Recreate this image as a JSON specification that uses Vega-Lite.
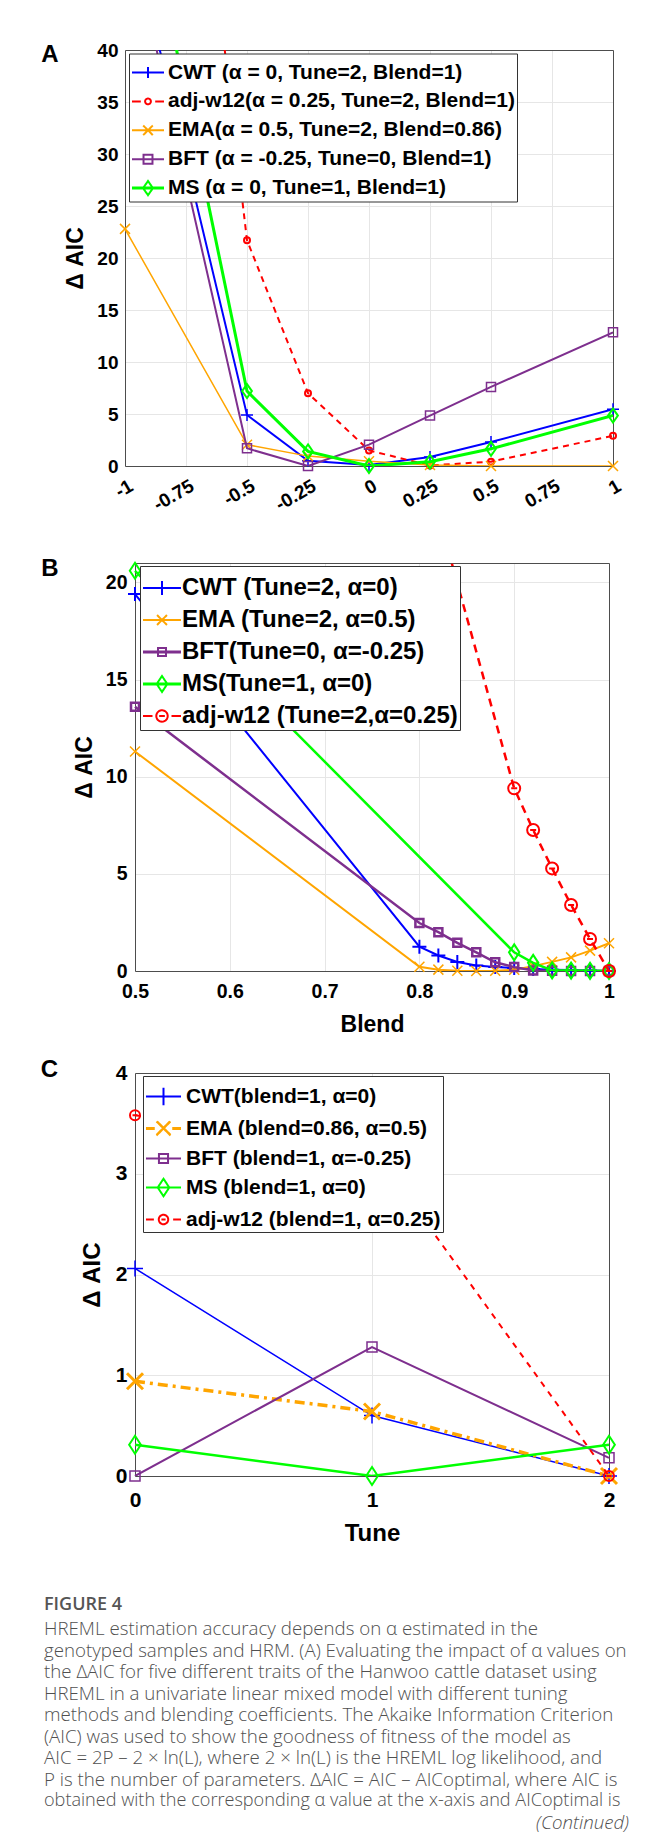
{
  "$schema": "https://vega.github.io/schema/vega-lite/v6.json",
  "background": "white",
  "padding": {"left": 40, "top": 41, "right": 0, "bottom": 0},
  "config": {
    "font": "Liberation Sans",
    "view": {"stroke": null},
    "axis": {
      "labelFont": "Liberation Sans", "labelFontWeight": "bold", "labelColor": "#000000",
      "titleFont": "Liberation Sans", "titleFontWeight": "bold", "titleColor": "#000000",
      "gridColor": "#e6e6e6", "gridWidth": 1, "ticks": false, "labelOverlap": false,
      "labelFlush": false, "labelBound": false, "domainColor": "#4d4d4d", "domainWidth": 1
    },
    "legend": {"labelFont": "Liberation Sans", "labelFontWeight": "bold", "labelColor": "#000000", "labelLimit": 800, "fillColor": "#ffffff", "strokeColor": "#333333"}
  },
  "datasets": {
    "a": [
      {"s": "CWT (α = 0, Tune=2, Blend=1)", "x": -1, "y": 54},
      {"s": "CWT (α = 0, Tune=2, Blend=1)", "x": -0.5, "y": 4.9},
      {"s": "CWT (α = 0, Tune=2, Blend=1)", "x": -0.25, "y": 0.5},
      {"s": "CWT (α = 0, Tune=2, Blend=1)", "x": 0, "y": 0.1},
      {"s": "CWT (α = 0, Tune=2, Blend=1)", "x": 0.25, "y": 0.86},
      {"s": "CWT (α = 0, Tune=2, Blend=1)", "x": 0.5, "y": 2.3},
      {"s": "CWT (α = 0, Tune=2, Blend=1)", "x": 1, "y": 5.45},
      {"s": "adj-w12(α = 0.25, Tune=2, Blend=1)", "x": -1, "y": 122},
      {"s": "adj-w12(α = 0.25, Tune=2, Blend=1)", "x": -0.5, "y": 21.7},
      {"s": "adj-w12(α = 0.25, Tune=2, Blend=1)", "x": -0.25, "y": 7.0},
      {"s": "adj-w12(α = 0.25, Tune=2, Blend=1)", "x": 0, "y": 1.5},
      {"s": "adj-w12(α = 0.25, Tune=2, Blend=1)", "x": 0.25, "y": 0.05},
      {"s": "adj-w12(α = 0.25, Tune=2, Blend=1)", "x": 0.5, "y": 0.42},
      {"s": "adj-w12(α = 0.25, Tune=2, Blend=1)", "x": 1, "y": 2.9},
      {"s": "EMA(α = 0.5, Tune=2, Blend=0.86)", "x": -1, "y": 22.8},
      {"s": "EMA(α = 0.5, Tune=2, Blend=0.86)", "x": -0.5, "y": 2.05},
      {"s": "EMA(α = 0.5, Tune=2, Blend=0.86)", "x": -0.25, "y": 0.95},
      {"s": "EMA(α = 0.5, Tune=2, Blend=0.86)", "x": 0, "y": 0.45},
      {"s": "EMA(α = 0.5, Tune=2, Blend=0.86)", "x": 0.25, "y": 0.1},
      {"s": "EMA(α = 0.5, Tune=2, Blend=0.86)", "x": 0.5, "y": 0},
      {"s": "EMA(α = 0.5, Tune=2, Blend=0.86)", "x": 1, "y": 0},
      {"s": "BFT (α = -0.25, Tune=0, Blend=1)", "x": -1, "y": 53.4},
      {"s": "BFT (α = -0.25, Tune=0, Blend=1)", "x": -0.5, "y": 1.7},
      {"s": "BFT (α = -0.25, Tune=0, Blend=1)", "x": -0.25, "y": 0},
      {"s": "BFT (α = -0.25, Tune=0, Blend=1)", "x": 0, "y": 2.05},
      {"s": "BFT (α = -0.25, Tune=0, Blend=1)", "x": 0.25, "y": 4.85},
      {"s": "BFT (α = -0.25, Tune=0, Blend=1)", "x": 0.5, "y": 7.6},
      {"s": "BFT (α = -0.25, Tune=0, Blend=1)", "x": 1, "y": 12.85},
      {"s": "MS (α = 0, Tune=1, Blend=1)", "x": -1, "y": 64},
      {"s": "MS (α = 0, Tune=1, Blend=1)", "x": -0.5, "y": 7.2},
      {"s": "MS (α = 0, Tune=1, Blend=1)", "x": -0.25, "y": 1.4},
      {"s": "MS (α = 0, Tune=1, Blend=1)", "x": 0, "y": 0},
      {"s": "MS (α = 0, Tune=1, Blend=1)", "x": 0.25, "y": 0.4},
      {"s": "MS (α = 0, Tune=1, Blend=1)", "x": 0.5, "y": 1.65},
      {"s": "MS (α = 0, Tune=1, Blend=1)", "x": 1, "y": 4.85}
    ],
    "b": [
      {"s": "CWT (Tune=2, α=0)", "x": 0.5, "y": 19.4},
      {"s": "CWT (Tune=2, α=0)", "x": 0.8, "y": 1.25},
      {"s": "CWT (Tune=2, α=0)", "x": 0.82, "y": 0.8},
      {"s": "CWT (Tune=2, α=0)", "x": 0.84, "y": 0.46},
      {"s": "CWT (Tune=2, α=0)", "x": 0.86, "y": 0.28},
      {"s": "CWT (Tune=2, α=0)", "x": 0.88, "y": 0.2},
      {"s": "CWT (Tune=2, α=0)", "x": 0.9, "y": 0.15},
      {"s": "CWT (Tune=2, α=0)", "x": 0.92, "y": 0.1},
      {"s": "CWT (Tune=2, α=0)", "x": 0.94, "y": 0.07},
      {"s": "CWT (Tune=2, α=0)", "x": 0.96, "y": 0.05},
      {"s": "CWT (Tune=2, α=0)", "x": 0.98, "y": 0.03},
      {"s": "CWT (Tune=2, α=0)", "x": 1, "y": 0},
      {"s": "EMA (Tune=2, α=0.5)", "x": 0.5, "y": 11.3},
      {"s": "EMA (Tune=2, α=0.5)", "x": 0.8, "y": 0.22},
      {"s": "EMA (Tune=2, α=0.5)", "x": 0.82, "y": 0.07},
      {"s": "EMA (Tune=2, α=0.5)", "x": 0.84, "y": 0.01},
      {"s": "EMA (Tune=2, α=0.5)", "x": 0.86, "y": 0},
      {"s": "EMA (Tune=2, α=0.5)", "x": 0.88, "y": 0.01},
      {"s": "EMA (Tune=2, α=0.5)", "x": 0.9, "y": 0.06},
      {"s": "EMA (Tune=2, α=0.5)", "x": 0.92, "y": 0.25},
      {"s": "EMA (Tune=2, α=0.5)", "x": 0.94, "y": 0.47},
      {"s": "EMA (Tune=2, α=0.5)", "x": 0.96, "y": 0.7},
      {"s": "EMA (Tune=2, α=0.5)", "x": 0.98, "y": 1.05},
      {"s": "EMA (Tune=2, α=0.5)", "x": 1, "y": 1.43},
      {"s": "BFT(Tune=0, α=-0.25)", "x": 0.5, "y": 13.6},
      {"s": "BFT(Tune=0, α=-0.25)", "x": 0.8, "y": 2.47},
      {"s": "BFT(Tune=0, α=-0.25)", "x": 0.82, "y": 2.0},
      {"s": "BFT(Tune=0, α=-0.25)", "x": 0.84, "y": 1.45},
      {"s": "BFT(Tune=0, α=-0.25)", "x": 0.86, "y": 0.96},
      {"s": "BFT(Tune=0, α=-0.25)", "x": 0.88, "y": 0.45},
      {"s": "BFT(Tune=0, α=-0.25)", "x": 0.9, "y": 0.2},
      {"s": "BFT(Tune=0, α=-0.25)", "x": 0.92, "y": 0.03},
      {"s": "BFT(Tune=0, α=-0.25)", "x": 0.94, "y": 0.01},
      {"s": "BFT(Tune=0, α=-0.25)", "x": 0.96, "y": 0},
      {"s": "BFT(Tune=0, α=-0.25)", "x": 0.98, "y": 0},
      {"s": "BFT(Tune=0, α=-0.25)", "x": 1, "y": 0},
      {"s": "MS(Tune=1, α=0)", "x": 0.5, "y": 20.6},
      {"s": "MS(Tune=1, α=0)", "x": 0.9, "y": 0.96},
      {"s": "MS(Tune=1, α=0)", "x": 0.92, "y": 0.42},
      {"s": "MS(Tune=1, α=0)", "x": 0.94, "y": 0.03},
      {"s": "MS(Tune=1, α=0)", "x": 0.96, "y": 0.02},
      {"s": "MS(Tune=1, α=0)", "x": 0.98, "y": 0.01},
      {"s": "MS(Tune=1, α=0)", "x": 1, "y": 0},
      {"s": "adj-w12 (Tune=2,α=0.25)", "x": 0.5, "y": 80},
      {"s": "adj-w12 (Tune=2,α=0.25)", "x": 0.8, "y": 27},
      {"s": "adj-w12 (Tune=2,α=0.25)", "x": 0.9, "y": 9.4},
      {"s": "adj-w12 (Tune=2,α=0.25)", "x": 0.92, "y": 7.26},
      {"s": "adj-w12 (Tune=2,α=0.25)", "x": 0.94, "y": 5.28},
      {"s": "adj-w12 (Tune=2,α=0.25)", "x": 0.96, "y": 3.4},
      {"s": "adj-w12 (Tune=2,α=0.25)", "x": 0.98, "y": 1.65},
      {"s": "adj-w12 (Tune=2,α=0.25)", "x": 1, "y": 0}
    ],
    "c": [
      {"s": "CWT(blend=1, α=0)", "x": 0, "y": 2.06},
      {"s": "CWT(blend=1, α=0)", "x": 1, "y": 0.6},
      {"s": "CWT(blend=1, α=0)", "x": 2, "y": 0},
      {"s": "EMA (blend=0.86, α=0.5)", "x": 0, "y": 0.94},
      {"s": "EMA (blend=0.86, α=0.5)", "x": 1, "y": 0.64},
      {"s": "EMA (blend=0.86, α=0.5)", "x": 2, "y": 0},
      {"s": "BFT (blend=1, α=-0.25)", "x": 0, "y": 0},
      {"s": "BFT (blend=1, α=-0.25)", "x": 1, "y": 1.28},
      {"s": "BFT (blend=1, α=-0.25)", "x": 2, "y": 0.18},
      {"s": "MS (blend=1, α=0)", "x": 0, "y": 0.31},
      {"s": "MS (blend=1, α=0)", "x": 1, "y": 0},
      {"s": "MS (blend=1, α=0)", "x": 2, "y": 0.31},
      {"s": "adj-w12 (blend=1, α=0.25)", "x": 0, "y": 3.58},
      {"s": "adj-w12 (blend=1, α=0.25)", "x": 1, "y": 3.26},
      {"s": "adj-w12 (blend=1, α=0.25)", "x": 2, "y": 0}
    ],
    "cap": [
      {"line": 1, "text": "HREML estimation accuracy depends on α estimated in the"},
      {"line": 2, "text": "genotyped samples and HRM. (A) Evaluating the impact of α values on"},
      {"line": 3, "text": "the ΔAIC for five different traits of the Hanwoo cattle dataset using"},
      {"line": 4, "text": "HREML in a univariate linear mixed model with different tuning"},
      {"line": 5, "text": "methods and blending coefficients. The Akaike Information Criterion"},
      {"line": 6, "text": "(AIC) was used to show the goodness of fitness of the model as"},
      {"line": 7, "text": "AIC = 2P – 2 × ln(L), where 2 × ln(L) is the HREML log likelihood, and"},
      {"line": 8, "text": "P is the number of parameters. ΔAIC = AIC – AICoptimal, where AIC is"},
      {"line": 9, "text": "obtained with the corresponding α value at the x-axis and AICoptimal is"},
      {"line": 10, "text": "(Continued)"}
    ]
  },
  "resolve": {"scale": {"color": "independent", "x": "independent", "y": "independent"}, "legend": {"color": "independent"}},
  "spacing": 21,
  "vconcat": [
    {
      "resolve": {"scale": {"color": "independent", "x": "independent", "y": "independent"}, "legend": {"color": "independent"}},
      "spacing": 41,
      "vconcat": [
        {
          "width": 488, "height": 416,
          "title": {"text": "A", "orient": "left", "anchor": "end", "frame": "group", "angle": 0, "align": "left", "baseline": "alphabetic", "offset": 5.5, "dy": 11.5, "fontSize": 24, "fontWeight": "bold", "font": "Liberation Sans", "color": "#000000"},
          "data": {"name": "a"},
          "resolve": {"axis": {"x": "independent", "y": "independent"}},
          "layer": [
            {
              "transform": [{"filter": "indexof(datum.s, 'CWT') == 0"}],
              "mark": {"type": "line", "clip": true, "strokeWidth": 2},
              "encoding": {
                "x": {"field": "x", "type": "quantitative", "scale": {"domain": [-1, 1], "nice": false, "zero": false},
                  "axis": {"values": [-1, -0.75, -0.5, -0.25, 0, 0.25, 0.5, 0.75, 1], "labelExpr": "'' + datum.value", "labelAngle": -30, "labelAlign": "right", "labelBaseline": "middle", "labelPadding": 18, "labelOffset": 6, "labelFontSize": 19, "grid": true, "title": null, "domain": true}},
                "y": {"field": "y", "type": "quantitative", "scale": {"domain": [0, 40], "nice": false, "zero": false},
                  "axis": {"values": [0, 5, 10, 15, 20, 25, 30, 35, 40], "labelExpr": "'' + datum.value", "labelPadding": 7, "labelFontSize": 19, "grid": true, "domain": true, "title": "Δ AIC", "titleFontSize": 23, "titleX": -50, "titleY": 208, "titleAngle": 270, "titleBaseline": "middle", "titleAlign": "center"}},
                "color": {"field": "s", "type": "nominal",
                  "scale": {"domain": ["CWT (α = 0, Tune=2, Blend=1)", "adj-w12(α = 0.25, Tune=2, Blend=1)", "EMA(α = 0.5, Tune=2, Blend=0.86)", "BFT (α = -0.25, Tune=0, Blend=1)", "MS (α = 0, Tune=1, Blend=1)"], "range": ["#0000ff", "#ff0000", "#ffa500", "#7e2f8e", "#00ff00"]},
                  "legend": {"title": null, "orient": "none", "legendX": 4, "legendY": 3.5, "direction": "vertical", "labelFontSize": 21, "symbolSize": 1024, "symbolStrokeWidth": 2, "padding": 2, "rowPadding": 1.9, "labelOffset": 3,
                    "encode": {"symbols": {"update": {
                      "shape": {"signal": "['M-1,0H1M0,-0.34V0.34','M-1,0H-0.45M0.45,0H1M0.18,0A0.18,0.18 0 1 1 -0.18,0A0.18,0.18 0 1 1 0.18,0','M-1,0H1M-0.3,-0.3L0.3,0.3M-0.3,0.3L0.3,-0.3','M-1,0H1M-0.28,-0.28H0.28V0.28H-0.28Z','M-1,-0.03H1M-1,0.03H1M0,-0.44L0.31,0L0,0.44L-0.31,0Z'][datum.index]"},
                      "size": {"value": 1024},
                      "strokeDash": {"value": [1, 0]},
                      "fill": {"value": "transparent"}}}}}}
              }
            },
            {
              "transform": [{"filter": "indexof(datum.s, 'CWT') == 0 && datum.y <= 40"}],
              "mark": {"type": "point", "filled": false, "opacity": 1, "shape": "M-1,0H1M0,-1V1", "size": 144, "strokeWidth": 1.5},
              "encoding": {
                "x": {"field": "x", "type": "quantitative", "axis": {"orient": "top", "labels": false, "grid": false, "domain": true, "title": null}},
                "y": {"field": "y", "type": "quantitative", "axis": {"orient": "right", "labels": false, "grid": false, "domain": true, "title": null}},
                "color": {"field": "s", "type": "nominal", "legend": null}
              }
            },
            {
              "transform": [{"filter": "indexof(datum.s, 'adj') == 0"}],
              "mark": {"type": "line", "clip": true, "strokeWidth": 2, "strokeDash": [6, 5]},
              "encoding": {"x": {"field": "x", "type": "quantitative", "axis": null}, "y": {"field": "y", "type": "quantitative", "axis": null}, "color": {"field": "s", "type": "nominal", "legend": null}}
            },
            {
              "transform": [{"filter": "indexof(datum.s, 'adj') == 0 && datum.y <= 40"}],
              "mark": {"type": "point", "filled": false, "opacity": 1, "shape": "circle", "size": 36, "strokeWidth": 2},
              "encoding": {"x": {"field": "x", "type": "quantitative", "axis": null}, "y": {"field": "y", "type": "quantitative", "axis": null}, "color": {"field": "s", "type": "nominal", "legend": null}}
            },
            {
              "transform": [{"filter": "indexof(datum.s, 'EMA') == 0"}],
              "mark": {"type": "line", "clip": true, "strokeWidth": 1.5},
              "encoding": {"x": {"field": "x", "type": "quantitative", "axis": null}, "y": {"field": "y", "type": "quantitative", "axis": null}, "color": {"field": "s", "type": "nominal", "legend": null}}
            },
            {
              "transform": [{"filter": "indexof(datum.s, 'EMA') == 0 && datum.y <= 40"}],
              "mark": {"type": "point", "filled": false, "opacity": 1, "shape": "M-1,-1L1,1M-1,1L1,-1", "size": 100, "strokeWidth": 1.5},
              "encoding": {"x": {"field": "x", "type": "quantitative", "axis": null}, "y": {"field": "y", "type": "quantitative", "axis": null}, "color": {"field": "s", "type": "nominal", "legend": null}}
            },
            {
              "transform": [{"filter": "indexof(datum.s, 'BFT') == 0"}],
              "mark": {"type": "line", "clip": true, "strokeWidth": 2},
              "encoding": {"x": {"field": "x", "type": "quantitative", "axis": null}, "y": {"field": "y", "type": "quantitative", "axis": null}, "color": {"field": "s", "type": "nominal", "legend": null}}
            },
            {
              "transform": [{"filter": "indexof(datum.s, 'BFT') == 0 && datum.y <= 40"}],
              "mark": {"type": "point", "filled": false, "opacity": 1, "shape": "square", "size": 81, "strokeWidth": 1.5},
              "encoding": {"x": {"field": "x", "type": "quantitative", "axis": null}, "y": {"field": "y", "type": "quantitative", "axis": null}, "color": {"field": "s", "type": "nominal", "legend": null}}
            },
            {
              "transform": [{"filter": "indexof(datum.s, 'MS') == 0"}],
              "mark": {"type": "line", "clip": true, "strokeWidth": 3},
              "encoding": {"x": {"field": "x", "type": "quantitative", "axis": null}, "y": {"field": "y", "type": "quantitative", "axis": null}, "color": {"field": "s", "type": "nominal", "legend": null}}
            },
            {
              "transform": [{"filter": "indexof(datum.s, 'MS') == 0 && datum.y <= 40"}],
              "mark": {"type": "point", "filled": false, "opacity": 1, "shape": "M0,-1L0.7,0L0,1L-0.7,0Z", "size": 196, "strokeWidth": 2},
              "encoding": {"x": {"field": "x", "type": "quantitative", "axis": null}, "y": {"field": "y", "type": "quantitative", "axis": null}, "color": {"field": "s", "type": "nominal", "legend": null}}
            }
          ]
        },
        {
          "width": 488, "height": 408,
          "title": {"text": "B", "orient": "left", "anchor": "end", "frame": "group", "angle": 0, "align": "left", "baseline": "alphabetic", "offset": 14.5, "dy": 12.7, "fontSize": 24, "fontWeight": "bold", "font": "Liberation Sans", "color": "#000000"},
          "data": {"name": "b"},
          "resolve": {"axis": {"x": "independent", "y": "independent"}},
          "layer": [
            {
              "transform": [{"filter": "indexof(datum.s, 'CWT') == 0"}],
              "mark": {"type": "line", "clip": true, "strokeWidth": 2},
              "encoding": {
                "x": {"field": "x", "type": "quantitative", "scale": {"domain": [0.5, 1], "range": [10, 484], "nice": false, "zero": false},
                  "axis": {"values": [0.5, 0.6, 0.7, 0.8, 0.9, 1], "labelExpr": "'' + datum.value", "labelPadding": 11, "labelFontSize": 19.5, "grid": true, "domain": true, "title": "Blend", "titleFontSize": 23, "titleY": 53, "titleBaseline": "middle"}},
                "y": {"field": "y", "type": "quantitative", "scale": {"domain": [0, 21], "nice": false, "zero": false},
                  "axis": {"values": [0, 5, 10, 15, 20], "labelExpr": "'' + datum.value", "offset": -10, "labelPadding": 8, "labelFontSize": 19.5, "grid": true, "domain": true, "title": "Δ AIC", "titleFontSize": 23, "titleX": -51, "titleY": 204, "titleAngle": 270, "titleBaseline": "middle", "titleAlign": "center"}},
                "color": {"field": "s", "type": "nominal",
                  "scale": {"domain": ["CWT (Tune=2, α=0)", "EMA (Tune=2, α=0.5)", "BFT(Tune=0, α=-0.25)", "MS(Tune=1, α=0)", "adj-w12 (Tune=2,α=0.25)"], "range": ["#0000ff", "#ffa500", "#7e2f8e", "#00ff00", "#ff0000"]},
                  "legend": {"title": null, "orient": "none", "legendX": 15, "legendY": 3, "direction": "vertical", "labelFontSize": 24, "symbolSize": 1444, "symbolStrokeWidth": 2, "padding": 2, "rowPadding": -3.1, "labelOffset": 0,
                    "encode": {"symbols": {"update": {
                      "shape": {"signal": "['M-1,0H1M0,-0.37V0.37','M-1,0H1M-0.26,-0.26L0.26,0.26M-0.26,0.26L0.26,-0.26','M-1,-0.02H1M-1,0.02H1M-0.21,-0.21H0.21V0.21H-0.21Z','M-1,-0.02H1M-1,0.02H1M0,-0.42L0.28,0L0,0.42L-0.28,0Z','M-1,0H-0.5M0.5,0H1M0.3,0A0.3,0.3 0 1 1 -0.3,0A0.3,0.3 0 1 1 0.3,0M-0.15,0H0.15'][datum.index]"},
                      "size": {"value": 1444},
                      "strokeDash": {"value": [1, 0]},
                      "fill": {"value": "transparent"}}}}}}
              }
            },
            {
              "transform": [{"filter": "indexof(datum.s, 'CWT') == 0 && datum.y <= 21"}],
              "mark": {"type": "point", "filled": false, "opacity": 1, "shape": "M-1,0H1M0,-1V1", "size": 196, "strokeWidth": 2},
              "encoding": {
                "x": {"field": "x", "type": "quantitative", "axis": {"orient": "top", "labels": false, "grid": false, "domain": true, "title": null}},
                "y": {"field": "y", "type": "quantitative", "axis": {"orient": "right", "offset": -4, "labels": false, "grid": false, "domain": true, "title": null}},
                "color": {"field": "s", "type": "nominal", "legend": null}
              }
            },
            {
              "transform": [{"filter": "indexof(datum.s, 'EMA') == 0"}],
              "mark": {"type": "line", "clip": true, "strokeWidth": 2},
              "encoding": {"x": {"field": "x", "type": "quantitative", "axis": null}, "y": {"field": "y", "type": "quantitative", "axis": null}, "color": {"field": "s", "type": "nominal", "legend": null}}
            },
            {
              "transform": [{"filter": "indexof(datum.s, 'EMA') == 0 && datum.y <= 21"}],
              "mark": {"type": "point", "filled": false, "opacity": 1, "shape": "M-1,-1L1,1M-1,1L1,-1", "size": 100, "strokeWidth": 1.5},
              "encoding": {"x": {"field": "x", "type": "quantitative", "axis": null}, "y": {"field": "y", "type": "quantitative", "axis": null}, "color": {"field": "s", "type": "nominal", "legend": null}}
            },
            {
              "transform": [{"filter": "indexof(datum.s, 'BFT') == 0"}],
              "mark": {"type": "line", "clip": true, "strokeWidth": 2.5},
              "encoding": {"x": {"field": "x", "type": "quantitative", "axis": null}, "y": {"field": "y", "type": "quantitative", "axis": null}, "color": {"field": "s", "type": "nominal", "legend": null}}
            },
            {
              "transform": [{"filter": "indexof(datum.s, 'BFT') == 0 && datum.y <= 21"}],
              "mark": {"type": "point", "filled": false, "opacity": 1, "shape": "square", "size": 64, "strokeWidth": 2.5},
              "encoding": {"x": {"field": "x", "type": "quantitative", "axis": null}, "y": {"field": "y", "type": "quantitative", "axis": null}, "color": {"field": "s", "type": "nominal", "legend": null}}
            },
            {
              "transform": [{"filter": "indexof(datum.s, 'MS') == 0"}],
              "mark": {"type": "line", "clip": true, "strokeWidth": 2.5},
              "encoding": {"x": {"field": "x", "type": "quantitative", "axis": null}, "y": {"field": "y", "type": "quantitative", "axis": null}, "color": {"field": "s", "type": "nominal", "legend": null}}
            },
            {
              "transform": [{"filter": "indexof(datum.s, 'MS') == 0 && datum.y <= 21"}],
              "mark": {"type": "point", "filled": false, "opacity": 1, "shape": "M0,-1L0.65,0L0,1L-0.65,0Z", "size": 256, "strokeWidth": 2},
              "encoding": {"x": {"field": "x", "type": "quantitative", "axis": null}, "y": {"field": "y", "type": "quantitative", "axis": null}, "color": {"field": "s", "type": "nominal", "legend": null}}
            },
            {
              "transform": [{"filter": "indexof(datum.s, 'adj') == 0"}],
              "mark": {"type": "line", "clip": true, "strokeWidth": 2.5, "strokeDash": [8, 6]},
              "encoding": {"x": {"field": "x", "type": "quantitative", "axis": null}, "y": {"field": "y", "type": "quantitative", "axis": null}, "color": {"field": "s", "type": "nominal", "legend": null}}
            },
            {
              "transform": [{"filter": "indexof(datum.s, 'adj') == 0 && datum.y <= 21"}],
              "mark": {"type": "point", "filled": false, "opacity": 1, "shape": "M1,0A1,1 0 1 1 -1,0A1,1 0 1 1 1,0M-0.5,0H0.5", "size": 144, "strokeWidth": 2},
              "encoding": {"x": {"field": "x", "type": "quantitative", "axis": null}, "y": {"field": "y", "type": "quantitative", "axis": null}, "color": {"field": "s", "type": "nominal", "legend": null}}
            }
          ]
        }
      ]
    },
    {
      "resolve": {"scale": {"color": "independent", "x": "independent", "y": "independent"}, "legend": {"color": "independent"}},
      "spacing": 50,
      "vconcat": [
        {
          "width": 488, "height": 403,
          "title": {"text": "C", "orient": "left", "anchor": "end", "frame": "group", "angle": 0, "align": "left", "baseline": "alphabetic", "offset": 22, "dy": 3.7, "fontSize": 24, "fontWeight": "bold", "font": "Liberation Sans", "color": "#000000"},
          "data": {"name": "c"},
          "resolve": {"axis": {"x": "independent", "y": "independent"}},
          "layer": [
            {
              "transform": [{"filter": "indexof(datum.s, 'CWT') == 0"}],
              "mark": {"type": "line", "clip": true, "strokeWidth": 1.5},
              "encoding": {
                "x": {"field": "x", "type": "quantitative", "scale": {"domain": [0, 2], "range": [10, 484], "nice": false, "zero": false},
                  "axis": {"values": [0, 1, 2], "labelExpr": "'' + datum.value", "labelPadding": 13, "labelFontSize": 21, "grid": true, "domain": true, "title": "Tune", "titleFontSize": 24, "titleY": 57, "titleBaseline": "middle"}},
                "y": {"field": "y", "type": "quantitative", "scale": {"domain": [0, 4], "nice": false, "zero": false},
                  "axis": {"values": [0, 1, 2, 3, 4], "labelExpr": "'' + datum.value", "offset": -10, "labelPadding": 8, "labelFontSize": 21, "grid": true, "domain": true, "title": "Δ AIC", "titleFontSize": 24, "titleX": -43, "titleY": 201.5, "titleAngle": 270, "titleBaseline": "middle", "titleAlign": "center"}},
                "color": {"field": "s", "type": "nominal",
                  "scale": {"domain": ["CWT(blend=1, α=0)", "EMA (blend=0.86, α=0.5)", "BFT (blend=1, α=-0.25)", "MS (blend=1, α=0)", "adj-w12 (blend=1, α=0.25)"], "range": ["#0000ff", "#ffa500", "#7e2f8e", "#00ff00", "#ff0000"]},
                  "legend": {"title": null, "orient": "none", "legendX": 18, "legendY": 3, "direction": "vertical", "labelFontSize": 21, "symbolSize": 1225, "symbolStrokeWidth": 2, "padding": 2, "rowPadding": -4.6, "labelOffset": 4,
                    "encode": {"symbols": {"update": {
                      "shape": {"signal": "['M-1,0H1M0,-0.5V0.5','M-1,-0.03H-0.5M-1,0.03H-0.5M0.5,-0.03H1M0.5,0.03H1M-0.4,-0.4L0.4,0.4M-0.4,0.4L0.4,-0.4M-0.36,-0.4L0.4,0.36M-0.4,0.36L0.36,-0.4','M-1,0H1M-0.26,-0.26H0.26V0.26H-0.26Z','M-1,0H1M0,-0.5L0.33,0L0,0.5L-0.33,0Z','M-1,0H-0.55M0.55,0H1M0.27,0A0.27,0.27 0 1 1 -0.27,0A0.27,0.27 0 1 1 0.27,0M-0.12,0H0.12'][datum.index]"},
                      "size": {"value": 1225},
                      "strokeDash": {"value": [1, 0]},
                      "fill": {"value": "transparent"}}}}}}
              }
            },
            {
              "transform": [{"filter": "indexof(datum.s, 'CWT') == 0"}],
              "mark": {"type": "point", "filled": false, "opacity": 1, "shape": "M-1,0H1M0,-1V1", "size": 256, "strokeWidth": 1.5},
              "encoding": {
                "x": {"field": "x", "type": "quantitative", "axis": {"orient": "top", "labels": false, "grid": false, "domain": true, "title": null}},
                "y": {"field": "y", "type": "quantitative", "axis": {"orient": "right", "offset": -4, "labels": false, "grid": false, "domain": true, "title": null}},
                "color": {"field": "s", "type": "nominal", "legend": null}
              }
            },
            {
              "transform": [{"filter": "indexof(datum.s, 'EMA') == 0"}],
              "mark": {"type": "line", "clip": true, "strokeWidth": 3.5, "strokeDash": [10, 5, 3, 5]},
              "encoding": {"x": {"field": "x", "type": "quantitative", "axis": null}, "y": {"field": "y", "type": "quantitative", "axis": null}, "color": {"field": "s", "type": "nominal", "legend": null}}
            },
            {
              "transform": [{"filter": "indexof(datum.s, 'EMA') == 0"}],
              "mark": {"type": "point", "filled": false, "opacity": 1, "shape": "M-1,-1L1,1M-1,1L1,-1", "size": 256, "strokeWidth": 3},
              "encoding": {"x": {"field": "x", "type": "quantitative", "axis": null}, "y": {"field": "y", "type": "quantitative", "axis": null}, "color": {"field": "s", "type": "nominal", "legend": null}}
            },
            {
              "transform": [{"filter": "indexof(datum.s, 'BFT') == 0"}],
              "mark": {"type": "line", "clip": true, "strokeWidth": 2},
              "encoding": {"x": {"field": "x", "type": "quantitative", "axis": null}, "y": {"field": "y", "type": "quantitative", "axis": null}, "color": {"field": "s", "type": "nominal", "legend": null}}
            },
            {
              "transform": [{"filter": "indexof(datum.s, 'BFT') == 0"}],
              "mark": {"type": "point", "filled": false, "opacity": 1, "shape": "square", "size": 100, "strokeWidth": 1.5},
              "encoding": {"x": {"field": "x", "type": "quantitative", "axis": null}, "y": {"field": "y", "type": "quantitative", "axis": null}, "color": {"field": "s", "type": "nominal", "legend": null}}
            },
            {
              "transform": [{"filter": "indexof(datum.s, 'MS') == 0"}],
              "mark": {"type": "line", "clip": true, "strokeWidth": 2.5},
              "encoding": {"x": {"field": "x", "type": "quantitative", "axis": null}, "y": {"field": "y", "type": "quantitative", "axis": null}, "color": {"field": "s", "type": "nominal", "legend": null}}
            },
            {
              "transform": [{"filter": "indexof(datum.s, 'MS') == 0"}],
              "mark": {"type": "point", "filled": false, "opacity": 1, "shape": "M0,-1L0.65,0L0,1L-0.65,0Z", "size": 324, "strokeWidth": 2},
              "encoding": {"x": {"field": "x", "type": "quantitative", "axis": null}, "y": {"field": "y", "type": "quantitative", "axis": null}, "color": {"field": "s", "type": "nominal", "legend": null}}
            },
            {
              "transform": [{"filter": "indexof(datum.s, 'adj') == 0"}],
              "mark": {"type": "line", "clip": true, "strokeWidth": 2, "strokeDash": [6, 6]},
              "encoding": {"x": {"field": "x", "type": "quantitative", "axis": null}, "y": {"field": "y", "type": "quantitative", "axis": null}, "color": {"field": "s", "type": "nominal", "legend": null}}
            },
            {
              "transform": [{"filter": "indexof(datum.s, 'adj') == 0"}],
              "mark": {"type": "point", "filled": false, "opacity": 1, "shape": "M1,0A1,1 0 1 1 -1,0A1,1 0 1 1 1,0M-0.5,0H0.5", "size": 100, "strokeWidth": 2},
              "encoding": {"x": {"field": "x", "type": "quantitative", "axis": null}, "y": {"field": "y", "type": "quantitative", "axis": null}, "color": {"field": "s", "type": "nominal", "legend": null}}
            }
          ]
        },
        {
          "width": 488, "height": 194,
          "title": {"text": "FIGURE 4", "anchor": "start", "frame": "group", "orient": "top", "offset": -7.5, "dx": -81, "baseline": "alphabetic", "fontSize": 18, "fontWeight": 600, "font": "Open Sans", "color": "#555555"},
          "data": {"name": "cap"},
          "layer": [
            {
              "transform": [{"filter": "datum.line < 9"}],
              "mark": {"type": "text", "align": "left", "baseline": "middle", "font": "Open Sans", "fontSize": 18.7, "fontWeight": 300, "color": "#505050"},
              "encoding": {
                "x": {"datum": 0, "type": "quantitative", "scale": {"domain": [0, 1], "range": [-81, 504]}, "axis": null},
                "y": {"field": "line", "type": "quantitative", "scale": {"domain": [1, 10], "range": [0, 194], "nice": false, "zero": false}, "axis": null},
                "text": {"field": "text"}
              }
            },
            {
              "transform": [{"filter": "datum.line == 9"}],
              "mark": {"type": "text", "align": "left", "baseline": "middle", "font": "Open Sans", "fontSize": 18.1, "fontWeight": 300, "color": "#505050"},
              "encoding": {
                "x": {"datum": 0, "type": "quantitative"},
                "y": {"field": "line", "type": "quantitative"},
                "text": {"field": "text"}
              }
            },
            {
              "transform": [{"filter": "datum.line == 10"}],
              "mark": {"type": "text", "align": "right", "baseline": "middle", "font": "Open Sans", "fontSize": 18.7, "fontWeight": 300, "fontStyle": "italic", "color": "#505050"},
              "encoding": {
                "x": {"datum": 1, "type": "quantitative"},
                "y": {"field": "line", "type": "quantitative"},
                "text": {"field": "text"}
              }
            }
          ]
        }
      ]
    }
  ]
}
